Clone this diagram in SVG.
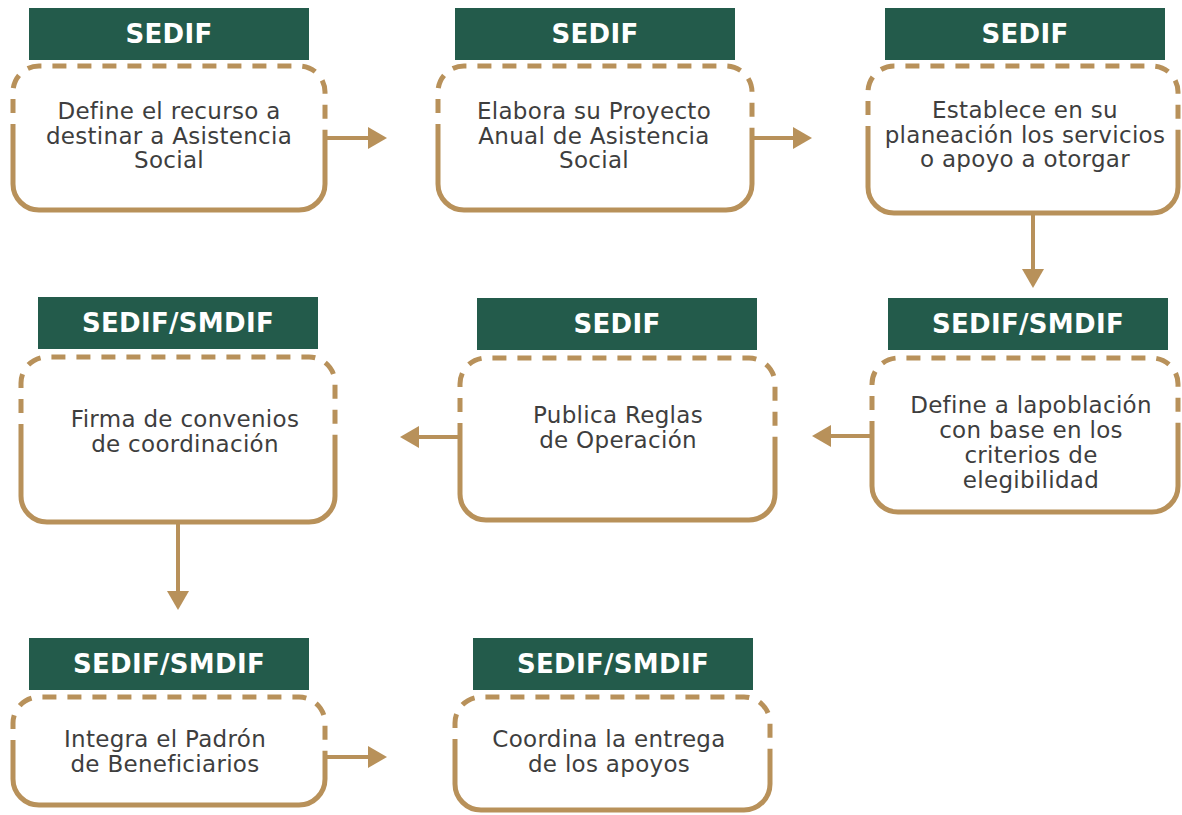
<svg xmlns="http://www.w3.org/2000/svg" width="1182" height="815" viewBox="0 0 1182 815">
<style>
.hdr{fill:#235b4b}
.ht{fill:#ffffff;font-family:"DejaVu Sans",sans-serif;font-weight:bold;font-size:26px;text-anchor:middle;letter-spacing:0.3px}
.bt{fill:#3e3e3e;font-family:"DejaVu Sans",sans-serif;font-size:23px;text-anchor:middle;letter-spacing:0.3px}
.dash{fill:none;stroke:#b8915a;stroke-width:5;stroke-dasharray:14 11}
.solid{fill:none;stroke:#b8915a;stroke-width:5}
.conn{fill:none;stroke:#b8915a;stroke-width:4}
</style>
<defs>
<marker id="ah" markerUnits="userSpaceOnUse" markerWidth="20" markerHeight="22" refX="1" refY="11" orient="auto">
<path d="M0,0 L19,11 L0,22 Z" fill="#b8915a"/>
</marker>
</defs>
<rect width="1182" height="815" fill="#ffffff"/>
<g id="connectors">
<path class="conn" d="M325,138 H369" marker-end="url(#ah)"/>
<path class="conn" d="M752,138 H794" marker-end="url(#ah)"/>
<path class="conn" d="M1033,213 V270" marker-end="url(#ah)"/>
<path class="conn" d="M872,436 H830" marker-end="url(#ah)"/>
<path class="conn" d="M460,437 H418" marker-end="url(#ah)"/>
<path class="conn" d="M178,522 V592" marker-end="url(#ah)"/>
<path class="conn" d="M325,757 H369" marker-end="url(#ah)"/>
</g>
<g id="n1">
<rect class="hdr" x="29" y="8" width="280" height="52"/>
<text class="ht" x="169" y="43">SEDIF</text>
<path class="dash" d="M13,138 V92 A26,26 0 0 1 39,66 H299 A26,26 0 0 1 325,92 V138"/>
<path class="solid" d="M13,138 V184 A26,26 0 0 0 39,210 H299 A26,26 0 0 0 325,184 V138"/>
<text class="bt" x="169" y="119">Define el recurso a</text>
<text class="bt" x="169" y="144">destinar a Asistencia</text>
<text class="bt" x="169" y="168">Social</text>
</g>
<g id="n2">
<rect class="hdr" x="455" y="8" width="280" height="52"/>
<text class="ht" x="595" y="43">SEDIF</text>
<path class="dash" d="M438,138 V92 A26,26 0 0 1 464,66 H726 A26,26 0 0 1 752,92 V138"/>
<path class="solid" d="M438,138 V184 A26,26 0 0 0 464,210 H726 A26,26 0 0 0 752,184 V138"/>
<text class="bt" x="594" y="119">Elabora su Proyecto</text>
<text class="bt" x="594" y="144">Anual de Asistencia</text>
<text class="bt" x="594" y="168">Social</text>
</g>
<g id="n3">
<rect class="hdr" x="885" y="8" width="280" height="52"/>
<text class="ht" x="1025" y="43">SEDIF</text>
<path class="dash" d="M868,140 V92 A26,26 0 0 1 894,66 H1152 A26,26 0 0 1 1178,92 V140"/>
<path class="solid" d="M868,140 V187 A26,26 0 0 0 894,213 H1152 A26,26 0 0 0 1178,187 V140"/>
<text class="bt" x="1025" y="118">Establece en su</text>
<text class="bt" x="1025" y="143">planeación los servicios</text>
<text class="bt" x="1025" y="167">o apoyo a otorgar</text>
</g>
<g id="n6">
<rect class="hdr" x="888" y="298" width="280" height="52"/>
<text class="ht" x="1028" y="333">SEDIF/SMDIF</text>
<path class="dash" d="M872,435 V384 A26,26 0 0 1 898,358 H1152 A26,26 0 0 1 1178,384 V435"/>
<path class="solid" d="M872,435 V486 A26,26 0 0 0 898,512 H1152 A26,26 0 0 0 1178,486 V435"/>
<text class="bt" x="1031" y="413">Define a lapoblación</text>
<text class="bt" x="1031" y="438">con base en los</text>
<text class="bt" x="1031" y="463">criterios de</text>
<text class="bt" x="1031" y="488">elegibilidad</text>
</g>
<g id="n5">
<rect class="hdr" x="477" y="298" width="280" height="52"/>
<text class="ht" x="617" y="333">SEDIF</text>
<path class="dash" d="M460,437 V384 A26,26 0 0 1 486,358 H749 A26,26 0 0 1 775,384 V437"/>
<path class="solid" d="M460,437 V494 A26,26 0 0 0 486,520 H749 A26,26 0 0 0 775,494 V437"/>
<text class="bt" x="618" y="423">Publica Reglas</text>
<text class="bt" x="618" y="448">de Operación</text>
</g>
<g id="n4">
<rect class="hdr" x="38" y="297" width="280" height="52"/>
<text class="ht" x="178" y="332">SEDIF/SMDIF</text>
<path class="dash" d="M21,438 V383 A26,26 0 0 1 47,357 H309 A26,26 0 0 1 335,383 V438"/>
<path class="solid" d="M21,438 V496 A26,26 0 0 0 47,522 H309 A26,26 0 0 0 335,496 V438"/>
<text class="bt" x="185" y="427">Firma de convenios</text>
<text class="bt" x="185" y="452">de coordinación</text>
</g>
<g id="n7">
<rect class="hdr" x="29" y="638" width="280" height="52"/>
<text class="ht" x="169" y="673">SEDIF/SMDIF</text>
<path class="dash" d="M13,754 V723 A26,26 0 0 1 39,697 H299 A26,26 0 0 1 325,723 V754"/>
<path class="solid" d="M13,754 V779 A26,26 0 0 0 39,805 H299 A26,26 0 0 0 325,779 V754"/>
<text class="bt" x="165" y="747">Integra el Padrón</text>
<text class="bt" x="165" y="772">de Beneficiarios</text>
</g>
<g id="n8">
<rect class="hdr" x="473" y="638" width="280" height="52"/>
<text class="ht" x="613" y="673">SEDIF/SMDIF</text>
<path class="dash" d="M455,753 V723 A26,26 0 0 1 481,697 H744 A26,26 0 0 1 770,723 V753"/>
<path class="solid" d="M455,753 V784 A26,26 0 0 0 481,810 H744 A26,26 0 0 0 770,784 V753"/>
<text class="bt" x="609" y="747">Coordina la entrega</text>
<text class="bt" x="609" y="772">de los apoyos</text>
</g>
</svg>
